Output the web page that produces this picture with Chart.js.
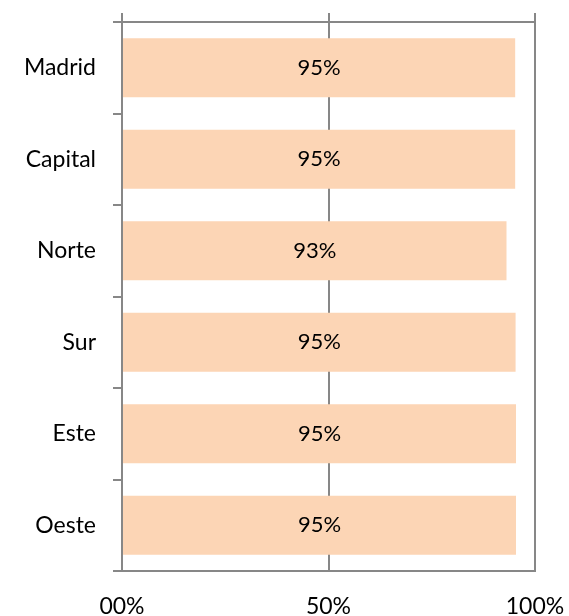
<!DOCTYPE html>
<html>
<head>
<meta charset="utf-8">
<script src="https://cdn.jsdelivr.net/npm/chart.js@4/dist/chart.umd.min.js"></script>
<style>
  html, body { margin: 0; padding: 0; background: #fff; }
  #wrap { width: 569px; height: 616px; }
</style>
</head>
<body>
<div id="wrap"><canvas id="myChart" width="569" height="616"></canvas></div>
<script>
var regiones = ['Madrid', 'Capital', 'Norte', 'Sur', 'Este', 'Oeste'];
var porcentajes = [95.2, 95.2, 93.1, 95.3, 95.4, 95.4];
var etiquetasX = { 0: '00%', 50: '50%', 100: '100%' };

var gris = '#878787';
var fuente = 'Lato, "Open Sans", sans-serif';

// etiquetas de valor dentro de cada barra
var etiquetasBarras = {
  id: 'etiquetasBarras',
  afterDatasetsDraw: function(chart) {
    var ctx = chart.ctx;
    var meta = chart.getDatasetMeta(0);
    ctx.save();
    ctx.font = '22px ' + fuente;
    ctx.fillStyle = '#000';
    ctx.textAlign = 'center';
    ctx.textBaseline = 'middle';
    meta.data.forEach(function(bar, i) {
      ctx.fillText(Math.round(porcentajes[i]) + '%', (bar.x + bar.base) / 2, bar.y);
    });
    ctx.restore();
  }
};

// sin relleno extra alrededor del area del grafico
function sinPadding(scale) {
  scale.paddingTop = 0;
  scale.paddingBottom = 0;
  scale.paddingLeft = 0;
  scale.paddingRight = 0;
}

var ctx = document.getElementById('myChart').getContext('2d');
var myChart = new Chart(ctx, {
  type: 'bar',
  data: {
    labels: regiones,
    datasets: [{
      data: porcentajes,
      backgroundColor: '#FCD5B5',
      borderWidth: 0,
      categoryPercentage: 1,
      barPercentage: 0.645
    }]
  },
  options: {
    indexAxis: 'y',
    responsive: false,
    animation: false,
    layout: { padding: { top: 0, right: 34, bottom: 0, left: 0 } },
    plugins: {
      legend: { display: false },
      tooltip: { enabled: false }
    },
    scales: {
      x: {
        position: 'bottom',
        min: 0,
        max: 100,
        afterFit: function(scale) { scale.height = 45; sinPadding(scale); },
        grid: { color: gris, lineWidth: 2, drawTicks: false },
        border: { display: true, color: gris, width: 2 },
        ticks: {
          stepSize: 50,
          padding: 22,
          color: '#000',
          font: { family: fuente, size: 23 },
          callback: function(v) { return etiquetasX[v]; }
        }
      },
      // eje superior: solo la linea del marco y las marcas de division
      x2: {
        position: 'top',
        axis: 'x',
        min: 0,
        max: 100,
        afterFit: function(scale) { scale.height = 22; sinPadding(scale); },
        grid: { color: gris, lineWidth: 2, drawOnChartArea: false, drawTicks: true, tickLength: 9 },
        border: { display: true, color: gris, width: 2 },
        ticks: { stepSize: 50, display: false }
      },
      y: {
        afterFit: function(scale) { scale.width = 122; sinPadding(scale); },
        grid: { color: gris, lineWidth: 2, offset: true, drawOnChartArea: false, drawTicks: true, tickLength: 9 },
        border: { display: true, color: gris, width: 2 },
        ticks: {
          padding: 17,
          color: '#000',
          font: { family: fuente, size: 23 }
        }
      }
    }
  },
  plugins: [etiquetasBarras]
});
</script>
</body>
</html>
